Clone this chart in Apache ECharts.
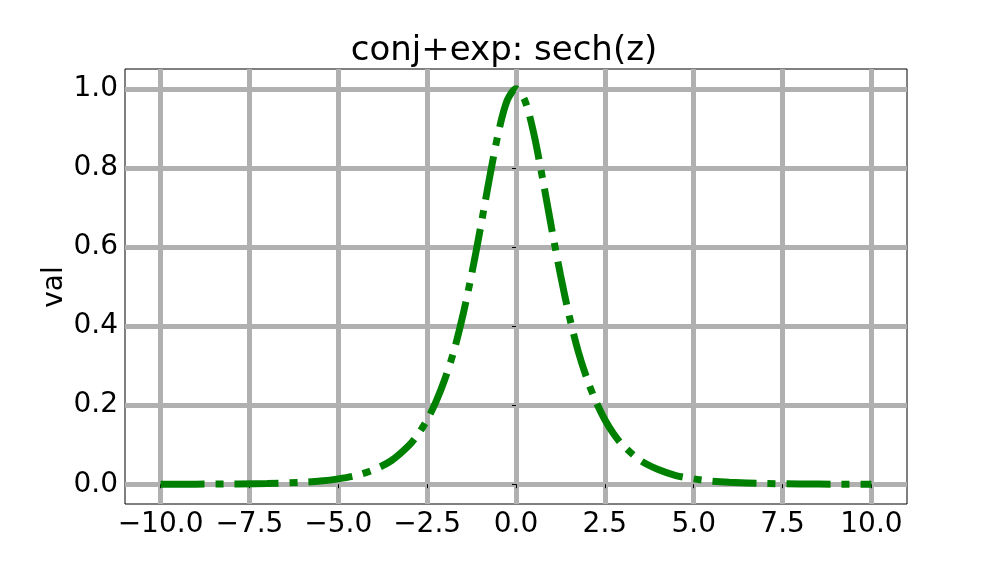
<!DOCTYPE html>
<html>
<head>
<meta charset="utf-8">
<script src="https://cdn.jsdelivr.net/npm/echarts@6/dist/echarts.min.js"></script>
<style>
html, body { margin: 0; padding: 0; background: #fff; }
#main { width: 1008px; height: 576px; }
</style>
</head>
<body>
<div id="main"></div>
<script>
// values
const xs = [-10, -9, -8, -7, -6, -5.5, -5, -4.5, -4, -3.5, -3, -2.75, -2.5, -2.25, -2, -1.75, -1.5, -1.25, -1, -0.75, -0.5, -0.25, 0,
            0.25, 0.5, 0.75, 1, 1.25, 1.5, 1.75, 2, 2.25, 2.5, 2.75, 3, 3.5, 4, 4.5, 5, 5.5, 6, 7, 8, 9, 10]
const vals = [0.0001, 0.0002, 0.0007, 0.0018, 0.005, 0.008, 0.0135, 0.022, 0.037, 0.06, 0.099, 0.127, 0.163, 0.209, 0.266, 0.336, 0.425, 0.53, 0.648, 0.772, 0.887, 0.97, 1.0,
              0.97, 0.887, 0.772, 0.648, 0.53, 0.425, 0.336, 0.266, 0.209, 0.163, 0.127, 0.099, 0.06, 0.037, 0.022, 0.0135, 0.008, 0.005, 0.0018, 0.0007, 0.0002, 0.0001]
const xTicks = [-10, -7.5, -5, -2.5, 0, 2.5, 5, 7.5, 10]
const yTicks = [0, 0.2, 0.4, 0.6, 0.8, 1.0]

const font = 'DejaVu Sans'
var myChart = echarts.init(document.getElementById('main'))
var option = {
    animation: false,
    title: {
        text: 'conj+exp: sech(z)',
        left: 'center',
        top: 29,
        textStyle: { fontFamily: font, fontSize: 34, fontWeight: 'normal', color: '#000' }
    },
    // y axis title, placed like matplotlib's ylabel
    graphic: [
        {
            type: 'text',
            x: 55,
            y: 287,
            rotation: Math.PI / 2,
            style: {
                text: 'val',
                fontFamily: font, fontSize: 28, fill: '#000',
                align: 'center', verticalAlign: 'middle'
            }
        }
    ],
    grid: {
        left: 125, right: 101, top: 69, bottom: 72,
        show: true, borderColor: '#000', borderWidth: 1, backgroundColor: 'transparent'
    },
    xAxis: {
        type: 'value',
        min: -11,
        max: 11,
        axisLine: { show: false },
        axisTick: { show: true, customValues: xTicks, length: 4, lineStyle: { color: '#000', width: 1 } },
        axisLabel: {
            customValues: xTicks,
            fontFamily: font, fontSize: 28, color: '#000', margin: 7,
            formatter: v => (v < 0 ? '\u2212' : '') + Math.abs(v).toFixed(1)
        },
        splitLine: { show: true, lineStyle: { color: '#b0b0b0', width: 5 } }
    },
    yAxis: {
        type: 'value',
        min: -0.05,
        max: 1.05,
        axisLine: { show: false },
        axisTick: { show: true, customValues: yTicks, length: 4, lineStyle: { color: '#000', width: 1 } },
        axisLabel: {
            customValues: yTicks,
            fontFamily: font, fontSize: 28, color: '#000', margin: 7,
            formatter: v => v.toFixed(1)
        },
        splitLine: { show: true, lineStyle: { color: '#b0b0b0', width: 5 } }
    },
    series: [
        {
            type: 'line',
            data: xs.map((x, i) => [x, vals[i]]),
            showSymbol: false,
            smooth: 0.3,
            lineStyle: { color: '#008000', width: 7, type: [44, 11, 8, 11], cap: 'butt' }
        }
    ]
}
option && myChart.setOption(option)
</script>
</body>
</html>
